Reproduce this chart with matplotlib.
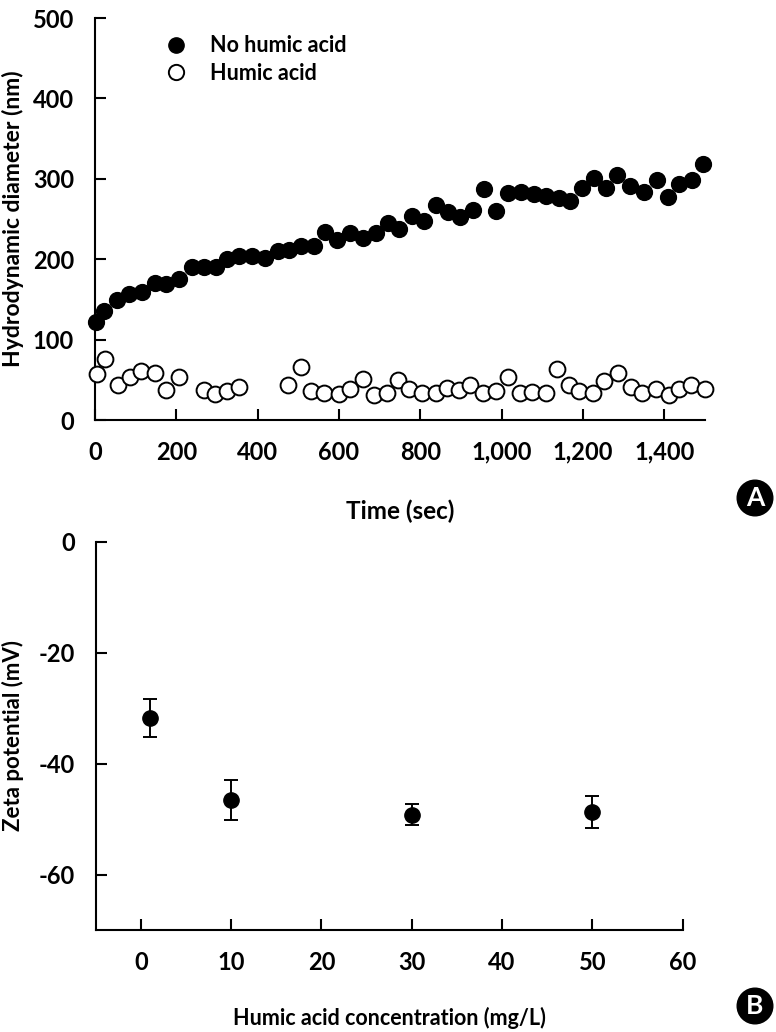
import matplotlib
matplotlib.use("Agg")
import matplotlib.pyplot as plt
from matplotlib.lines import Line2D

plt.rcParams['font.family'] = ['Lato', 'DejaVu Sans']
plt.rcParams['font.weight'] = 'bold'
plt.rcParams['axes.unicode_minus'] = False

# ---- Panel A data ----
time_no_ha = [2.5, 23, 54, 83, 116, 148, 174, 206, 239, 267, 298, 324, 355, 387, 418,
              450, 476, 507, 538, 565, 594, 628, 659, 692, 720, 748, 779, 808, 839, 869,
              897, 930, 957, 985, 1016, 1048, 1079, 1109, 1142, 1169, 1198, 1228, 1256,
              1283, 1315, 1350, 1381, 1409, 1437, 1468, 1495]
diam_no_ha = [122, 136, 149, 157, 159, 170, 169, 175, 190, 190, 190, 200, 204, 204, 202,
              210, 211, 217, 217, 234, 224, 232, 226, 232, 245, 238, 254, 248, 267, 259,
              253, 261, 287, 260, 282, 283, 281, 279, 276, 273, 289, 301, 289, 305, 291,
              283, 298, 277, 294, 298, 318]

time_ha = [6, 24, 57, 85, 113, 147, 174, 206, 267, 294, 324, 353, 475, 507, 532, 563,
           600, 627, 659, 685, 718, 745, 773, 805, 839, 866, 895, 923, 954, 987, 1016,
           1044, 1075, 1109, 1135, 1166, 1189, 1224, 1252, 1285, 1318, 1345, 1380, 1411,
           1436, 1466, 1501]
diam_ha = [57, 76, 44, 53, 61, 59, 37, 53, 37, 32, 36, 41, 43, 66, 36, 34, 32, 38, 51,
           31, 33, 50, 39, 34, 34, 40, 37, 43, 34, 36, 53, 34, 35, 34, 63, 43, 36, 33,
           49, 59, 41, 33, 39, 31, 38, 43, 38]

xticks_a = [0, 200, 400, 600, 800, 1000, 1200, 1400]
xticklabels_a = ['0', '200', '400', '600', '800', '1,000', '1,200', '1,400']
yticks_a = [0, 100, 200, 300, 400, 500]

# ---- Panel B data ----
ha_conc = [1, 10, 30, 50]
zeta = [-31.8, -46.6, -49.2, -48.8]
zeta_err = [3.4, 3.6, 1.9, 2.9]
xticks_b = [0, 10, 20, 30, 40, 50, 60]
yticks_b = [0, -20, -40, -60]

fig = plt.figure(figsize=(7.76, 10.32), dpi=100)

tick_fs = 17
lw = 1.5

def style(ax):
    for s in ['top', 'right']:
        ax.spines[s].set_visible(False)
    for s in ['left', 'bottom']:
        ax.spines[s].set_linewidth(lw)
    ax.tick_params(direction='in', length=8, width=lw, labelsize=tick_fs, pad=15)

# Panel A
axA = fig.add_axes([95/776, 1-420/1032, (705-95)/776, (420-18)/1032])
axA.scatter(time_no_ha, diam_no_ha, s=130, c='black', edgecolors='black', clip_on=False, zorder=3)
axA.scatter(time_ha, diam_ha, s=130, facecolors='white', edgecolors='black', linewidths=1.4,
            clip_on=False, zorder=3)
axA.set_xlim(0, 1500)
axA.set_ylim(0, 500)
axA.set_xticks(xticks_a)
axA.set_xticklabels(xticklabels_a)
axA.set_yticks(yticks_a)
style(axA)
axA.set_xlabel('Time (sec)', fontsize=17.5, fontweight='bold', labelpad=26)
axA.set_ylabel('Hydrodynamic diameter (nm)', fontsize=16.5, fontweight='bold')
axA.yaxis.set_label_coords(-0.117, 0.5)
handles = [Line2D([], [], marker='o', linestyle='none', markerfacecolor='black',
                  markeredgecolor='black', markersize=11),
           Line2D([], [], marker='o', linestyle='none', markerfacecolor='white',
                  markeredgecolor='black', markeredgewidth=1.4, markersize=11)]
axA.legend(handles, ['No humic acid', 'Humic acid'], loc='upper left',
           bbox_to_anchor=(0.072, 0.995), frameon=False, fontsize=15.5, handletextpad=0.6,
           labelspacing=0.3, borderaxespad=0.3)

# Panel B
axB = fig.add_axes([95.7/776, 1-930/1032, (682.7-95.7)/776, (930-541.7)/1032])
axB.errorbar(ha_conc, zeta, yerr=zeta_err, fmt='o', color='black', markersize=11,
             ecolor='black', elinewidth=1.4, capsize=5, capthick=1.4, zorder=3)
axB.set_xlim(-5, 60)
axB.set_ylim(-70, 0)
axB.set_xticks(xticks_b)
axB.set_yticks(yticks_b)
style(axB)
axB.set_xlabel('Humic acid concentration (mg/L)', fontsize=15.5, fontweight='bold', labelpad=24)
axB.set_ylabel('Zeta potential (mV)', fontsize=16, fontweight='bold')
axB.yaxis.set_label_coords(-0.122, 0.5)

# Panel badges
for label, ypix in [('A', 498), ('B', 1006)]:
    fig.text(755/776, 1-ypix/1032, label, ha='center', va='center', color='white',
             fontsize=19, fontweight='bold',
             bbox=dict(boxstyle='circle,pad=0.22', facecolor='black', edgecolor='black'))

fig.savefig('out.png', dpi=100)
